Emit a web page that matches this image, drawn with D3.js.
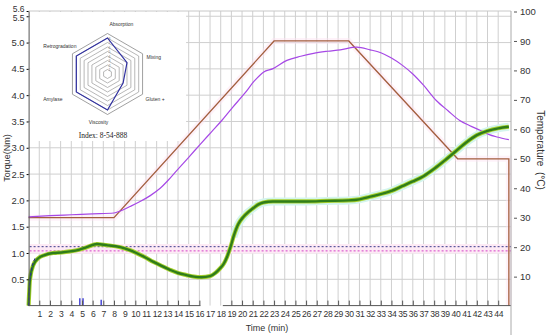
<!DOCTYPE html>
<html>
<head>
<meta charset="utf-8">
<script src="https://cdn.jsdelivr.net/npm/d3@7"></script>
<style>
body { margin: 0; background: #fff; }
text { font-family: "Liberation Sans", Arial, sans-serif; }
</style>
</head>
<body>
<script>
// torque curve (Nm)
var torqueTime = [0, 0.13, 0.44, 0.91, 1.5, 2.3, 3.1, 3.9, 4.7, 5.45, 6.4, 7.3, 8.6, 9.4, 10.1, 10.9, 11.7, 12.5, 13.25, 14, 14.8, 15.5, 16.2, 17, 17.5, 17.95, 18.3, 18.6, 18.9, 19.2, 19.65, 20.1, 20.6, 21.1, 21.5, 22, 22.9, 24, 26, 28, 30, 31, 32, 33, 34, 35, 36, 37, 38, 39, 40, 41, 42, 43, 44, 45];
var torqueValue = [0, 0.5, 0.77, 0.9, 0.96, 1.0, 1.01, 1.03, 1.06, 1.11, 1.17, 1.15, 1.11, 1.06, 1.0, 0.92, 0.83, 0.75, 0.68, 0.62, 0.58, 0.55, 0.54, 0.56, 0.62, 0.71, 0.8, 0.93, 1.1, 1.31, 1.55, 1.68, 1.78, 1.86, 1.92, 1.96, 1.98, 1.98, 1.98, 1.99, 2.0, 2.02, 2.07, 2.12, 2.18, 2.27, 2.36, 2.46, 2.6, 2.76, 2.93, 3.1, 3.24, 3.32, 3.37, 3.4];

// dough temperature (°C)
var probeTime = [0, 2, 4, 6, 8, 8.6, 9.5, 10.4, 11.4, 12.3, 13.1, 13.9, 15, 16.1, 17.1, 18.1, 19.1, 20.2, 21.2, 22, 22.9, 24.2, 25.5, 26.7, 28, 29.2, 30.75, 32, 33, 34, 35, 36, 37, 38.2, 39.3, 40.4, 41.3, 42.3, 43.1, 43.9, 45];
var probeTemp = [30.3, 30.7, 31.0, 31.3, 31.6, 32.3, 33.8, 35.4, 37.5, 39.9, 42.8, 46.1, 50.5, 55, 59, 63, 67.4, 72, 76.6, 79.4, 80.6, 83.4, 84.8, 85.8, 86.5, 87, 87.9, 87, 86, 84.2, 81.8, 78.8, 75, 69.8, 66.3, 63, 61.3, 59.7, 58.3, 57.4, 56.5];

// set temperature profile (°C)
var targetTime = [0, 8, 23, 30, 40.2, 45, 45];
var targetTemp = [30, 30, 90, 90, 50, 50, 0];

// start segment and small marks
var startTime = [0, 0.1, 0.3, 0.6];
var startValue = [0, 0.45, 0.75, 0.9];
var spikeTime = [4.8, 5.1, 6.8];
var spikeValue = [0.14, 0.14, 0.11];

// reference torque levels
var refLevels = [1.12, 1.04];

// tick labels
var timeTicks = d3.range(1, 45);
var torqueTicks = [0.5, 1, 1.5, 2, 2.5, 3, 3.5, 4, 4.5, 5, 5.5, 5.6];
var tempTicks = [10, 20, 30, 40, 50, 60, 70, 80, 90, 100];

// profile radar
var radarAxes = ["Absorption", "Mixing", "Gluten +", "Viscosity", "Amylase", "Retrogradation"];
var radarValues = [8, 5, 4, 8, 8, 8];
var radarMax = 9;
var radarIndex = "Index: 8-54-888";

var width = 550, height = 335;
var plot = {left: 28.6, right: 511, top: 11, bottom: 305.6};

var svg = d3.select("body").append("svg")
    .attr("width", width)
    .attr("height", height);

// scales
var x = d3.scaleLinear().domain([0, 45.2]).range([plot.left, plot.right]);
var y = d3.scaleLinear().domain([0, 5.6]).range([plot.bottom, plot.top]);
var yT = d3.scaleLinear().domain([0, 100]).range([plot.bottom + 0.5, plot.top + 0.5]);

// grid
svg.append("g").selectAll("line")
    .data(timeTicks)
    .enter().append("line")
    .attr("x1", function(d) { return x(d); })
    .attr("x2", function(d) { return x(d); })
    .attr("y1", plot.top)
    .attr("y2", plot.bottom)
    .attr("stroke", "#cfcfcf")
    .attr("stroke-width", 1);

svg.append("g").selectAll("line")
    .data(torqueTicks.slice(0, 11))
    .enter().append("line")
    .attr("x1", plot.left)
    .attr("x2", plot.right)
    .attr("y1", function(d) { return y(d); })
    .attr("y2", function(d) { return y(d); })
    .attr("stroke", "#cfcfcf")
    .attr("stroke-width", 1);

svg.append("line")
    .attr("x1", plot.left).attr("x2", plot.right)
    .attr("y1", plot.top).attr("y2", plot.top)
    .attr("stroke", "#c8c8c8");

// white box for radar inset
svg.append("rect")
    .attr("x", plot.left + 1.5).attr("y", plot.top + 1)
    .attr("width", 156).attr("height", 129)
    .attr("fill", "#fff");

// pink band behind reference lines
svg.append("rect")
    .attr("x", plot.left + 1).attr("width", plot.right - plot.left - 1)
    .attr("y", y(1.17)).attr("height", y(0.99) - y(1.17))
    .attr("fill", "#fdeaf5");

var lineT = d3.line()
    .x(function(d) { return x(d[0]); })
    .y(function(d) { return yT(d[1]); });

var lineQ = d3.line()
    .x(function(d) { return x(d[0]); })
    .y(function(d) { return y(d[1]); })
    .curve(d3.curveMonotoneX);

var targetData = d3.zip(targetTime, targetTemp);
var probeData = d3.zip(probeTime, probeTemp);
var torqueData = d3.zip(torqueTime, torqueValue);

// halos
svg.append("path").datum(targetData)
    .attr("d", lineT)
    .attr("fill", "none")
    .attr("stroke", "#fde2f1")
    .attr("stroke-width", 6)
    .attr("opacity", 0.45);

svg.append("path").datum(torqueData.filter(function(d) { return d[0] > 19; }))
    .attr("d", lineQ)
    .attr("fill", "none")
    .attr("stroke", "#d4f5ee")
    .attr("stroke-width", 8);

// reference lines
svg.append("g").selectAll("line")
    .data(refLevels)
    .enter().append("line")
    .attr("x1", plot.left + 1)
    .attr("x2", plot.right)
    .attr("y1", function(d) { return y(d); })
    .attr("y2", function(d) { return y(d); })
    .attr("stroke", function(d, i) { return i == 0 ? "#3b3b8c" : "#d444c8"; })
    .attr("stroke-width", 1)
    .attr("stroke-dasharray", "2,2");

// set temperature
svg.append("path").datum(targetData)
    .attr("d", lineT)
    .attr("fill", "none")
    .attr("stroke", "#a35e3e")
    .attr("stroke-width", 1.3);

// dough temperature
svg.append("path").datum(probeData)
    .attr("d", lineT.curve(d3.curveMonotoneX))
    .attr("fill", "none")
    .attr("stroke", "#a648e6")
    .attr("stroke-width", 1.2);

// torque
svg.append("path").datum(torqueData)
    .attr("d", lineQ)
    .attr("fill", "none")
    .attr("stroke", "#a6d02c")
    .attr("stroke-width", 4.2);

svg.append("path").datum(torqueData)
    .attr("d", lineQ)
    .attr("fill", "none")
    .attr("stroke", "#2f7d1a")
    .attr("stroke-width", 2.4);

svg.append("path").datum(d3.zip(startTime, startValue))
    .attr("d", d3.line().x(function(d) { return x(d[0]); }).y(function(d) { return y(d[1]); }))
    .attr("fill", "none")
    .attr("stroke", "#2a2a9a")
    .attr("stroke-width", 1)
    .attr("stroke-dasharray", "3,2");

svg.append("g").selectAll("line")
    .data(d3.zip(spikeTime, spikeValue))
    .enter().append("line")
    .attr("x1", function(d) { return x(d[0]); })
    .attr("x2", function(d) { return x(d[0]); })
    .attr("y1", y(0))
    .attr("y2", function(d) { return y(d[1]); })
    .attr("stroke", "#2b2bd0")
    .attr("stroke-width", 1.3);

// axes
var xAxis = svg.append("g")
    .attr("transform", "translate(0," + plot.bottom + ")")
    .call(d3.axisBottom(x).tickValues(timeTicks).tickSize(-5).tickSizeOuter(0).tickPadding(5));
xAxis.select(".domain").remove();
xAxis.selectAll(".tick line")
    .attr("stroke", "#555")
    .attr("display", function(d) { return (d == 17 || d == 18) ? "none" : null; });
xAxis.selectAll("text").attr("font-size", 8.6).attr("fill", "#333").attr("letter-spacing", -0.3);
[[0, 16.1], [18.2, 45.2]].forEach(function(s) {
    xAxis.append("line")
        .attr("x1", x(s[0])).attr("x2", x(s[1]))
        .attr("stroke", "#555");
});

var yAxis = svg.append("g")
    .attr("transform", "translate(" + plot.left + ",0)")
    .call(d3.axisLeft(y).tickValues(torqueTicks).tickSize(2).tickSizeOuter(0).tickPadding(2));
yAxis.select(".domain").attr("stroke", "#555");
yAxis.selectAll("text").attr("font-size", 9.5).attr("fill", "#333");
// 5.6 and 5.5 sit almost on top of each other at the top of the axis
yAxis.selectAll(".tick").filter(function(d) { return d >= 5.5; })
    .select("text")
    .attr("font-size", 8.5)
    .attr("dy", function(d) { return d == 5.6 ? "0.05em" : "0.5em"; });

var tAxis = svg.append("g")
    .attr("transform", "translate(" + plot.right + ",0)")
    .call(d3.axisRight(yT).tickValues(tempTicks).tickSize(6).tickSizeOuter(0).tickPadding(3));
tAxis.select(".domain").attr("stroke", "#aaa").attr("d", "M0," + plot.top + "V" + height);
tAxis.selectAll(".tick line").attr("x1", 3).attr("stroke", "#555");
tAxis.selectAll("text").attr("font-size", 9.5).attr("fill", "#333");

// axis titles
svg.append("text")
    .attr("transform", "translate(10,158) rotate(-90)")
    .attr("text-anchor", "middle")
    .attr("font-size", 9)
    .attr("fill", "#333")
    .text("Torque(Nm)");

svg.append("text")
    .attr("transform", "translate(537,150) rotate(90)")
    .attr("text-anchor", "middle")
    .attr("font-size", 10)
    .attr("fill", "#333")
    .attr("xml:space", "preserve")
    .text("Temperature  (°C)");

svg.append("text")
    .attr("x", 267).attr("y", 331)
    .attr("text-anchor", "middle")
    .attr("font-size", 9)
    .attr("fill", "#333")
    .text("Time (min)");

// radar inset
var cx = 107.5, cy = 74, R = 40.5;
var r = d3.scaleLinear().domain([0, radarMax]).range([0, R]);
var angle = function(i) { return -Math.PI / 2 + i * Math.PI / 3; };
var hexPoints = function(v) {
    return radarAxes.map(function(a, i) {
        return [cx + r(v) * Math.cos(angle(i)), cy + r(v) * Math.sin(angle(i))];
    });
};
var radar = svg.append("g");
radar.selectAll("polygon.ring")
    .data(d3.range(1, radarMax + 1))
    .enter().append("polygon")
    .attr("class", "ring")
    .attr("points", function(d) { return hexPoints(d).join(" "); })
    .attr("fill", "none")
    .attr("stroke", function(d) { return d == radarMax ? "#777" : "#9a9a9a"; })
    .attr("stroke-width", 0.7);

radar.selectAll("text.num")
    .data(d3.range(1, radarMax))
    .enter().append("text")
    .attr("class", "num")
    .attr("x", cx + 1)
    .attr("y", function(d) { return cy - r(d) + 1.5; })
    .attr("font-size", 3.5)
    .attr("fill", "#888")
    .text(function(d) { return d; });

radar.append("polygon")
    .attr("points", radarValues.map(function(v, i) {
        return [cx + r(v) * Math.cos(angle(i)), cy + r(v) * Math.sin(angle(i))];
    }).join(" "))
    .attr("fill", "none")
    .attr("stroke", "#2f2fa0")
    .attr("stroke-width", 1.2);

var labelPos = [
    {dx: 2, dy: -8, anchor: "start"},
    {dx: 4, dy: 5, anchor: "start"},
    {dx: 3, dy: 7, anchor: "start"},
    {dx: -9, dy: 9.5, anchor: "middle"},
    {dx: -10, dy: 7, anchor: "end"},
    {dx: 4, dy: -6, anchor: "end"}
];
radar.selectAll("text.lab")
    .data(radarAxes)
    .enter().append("text")
    .attr("class", "lab")
    .attr("x", function(d, i) { return cx + R * Math.cos(angle(i)) + labelPos[i].dx; })
    .attr("y", function(d, i) { return cy + R * Math.sin(angle(i)) + labelPos[i].dy; })
    .attr("text-anchor", function(d, i) { return labelPos[i].anchor; })
    .attr("font-size", 5)
    .attr("fill", "#333")
    .text(function(d) { return d; });

radar.append("text")
    .attr("x", 103).attr("y", 137.5)
    .attr("text-anchor", "middle")
    .attr("font-size", 7.5)
    .attr("fill", "#222")
    .style("font-family", "'Liberation Serif', serif")
    .text(radarIndex);
</script>
</body>
</html>
